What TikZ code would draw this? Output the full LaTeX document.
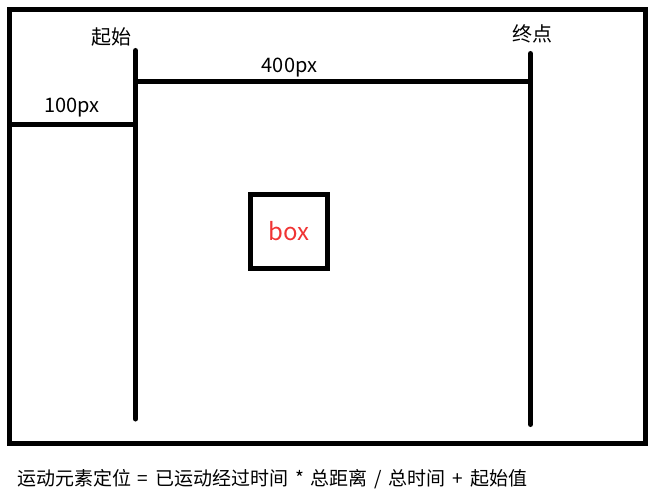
\documentclass[tikz,border=0pt]{standalone}
\usepackage{fontspec}
\setmainfont{Noto Sans CJK SC}
\definecolor{boxred}{RGB}{240,52,52}
\newcommand\opsp[1]{\hspace{6.8pt}#1\hspace{6.8pt}}
\begin{document}
\begin{tikzpicture}[x=1pt,y=-1pt,
  thick line/.style={line width=5pt,black},
  label text/.style={font=\fontsize{20}{20}\selectfont,anchor=base,inner sep=0pt},
  boxnode/.style={draw=black,line width=5pt,minimum width=77pt,minimum height=74pt,inner sep=0pt,
    text=boxred,font=\fontsize{24}{24}\selectfont}]
  \useasboundingbox[fill=white] (0,0) rectangle (658,494);
  % frame
  \draw[thick line] (9.5,9.5) rectangle (645.5,443.5);
  % coordinates
  \coordinate (startTop) at (135.5,50.5);
  \coordinate (startBot) at (135.5,419);
  \coordinate (endTop) at (530.5,53.5);
  \coordinate (endBot) at (530.5,424.5);
  \coordinate (leftEdge) at (9.5,124.5);
  \coordinate (startMid) at (135.5,124.5);
  \coordinate (startUp) at (135.5,81.5);
  \coordinate (endUp) at (530.5,81.5);
  % vertical lines
  \draw[thick line,line cap=round] (startTop) -- (startBot);
  \draw[thick line,line cap=round] (endTop) -- (endBot);
  % horizontal lines
  \draw[thick line] (leftEdge) -- (startMid);
  \draw[thick line] (startUp) -- (endUp);
  % labels
  \node[label text] (qishi) at (111,44.5) {起始};
  \node[label text] (zhongdian) at (532.5,42) {终点};
  \node[label text] (l100) at (72,113) {100px};
  \node[label text] (l400) at (289.5,73) {400px};
  % box
  \node[boxnode] (box) at (289,231.5) {box};
  % formula
  \node[font=\fontsize{19}{19}\selectfont,anchor=base west,inner sep=0pt] (formula) at (17,485)
    {运动元素定位\opsp{=}已运动经过时间\opsp{*}总距离\opsp{/}总时间\opsp{+}起始值};
\end{tikzpicture}
\end{document}
